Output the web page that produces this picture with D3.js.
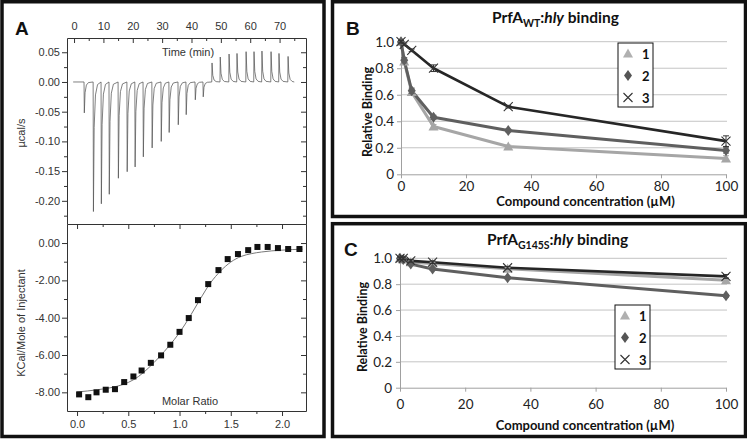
<!DOCTYPE html>
<html><head><meta charset="utf-8">
<script src="https://cdn.jsdelivr.net/npm/d3@7"></script>
<style>body{margin:0;background:#fff} svg{display:block}</style>
</head><body>
<svg id="chart" width="747" height="440"></svg>
<script>
// ---------------- DATA ----------------
// Panel A (top): ITC raw trace, injection times (min) and peak heat rates (µcal/s)
const injTime = [3.4,6.5,9.2,11.9,15.0,18.0,20.7,23.5,26.5,29.6,32.3,35.4,38.1,41.2,43.9,46.9,49.7,52.7,55.4,58.5,61.2,63.9,67.0,69.7,72.8];
const injPeak = [-0.052,-0.218,-0.205,-0.189,-0.162,-0.151,-0.143,-0.126,-0.111,-0.100,-0.085,-0.072,-0.055,-0.030,-0.025,0.032,0.042,0.047,0.048,0.051,0.051,0.052,0.051,0.048,0.043];
const timeTicks = [0,10,20,30,40,50,60,70];
const timeMinor = [5,15,25,35,45,55,65,75];
const rateTicks = [0.05,0,-0.05,-0.10,-0.15,-0.20];
const rateMinor = [0.025,-0.025,-0.075,-0.125,-0.175,-0.225];
// Panel A (bottom): integrated heats
const molarRatio = [0.02,0.11,0.19,0.28,0.37,0.46,0.55,0.63,0.72,0.82,0.91,1.00,1.09,1.18,1.28,1.38,1.47,1.57,1.67,1.76,1.86,1.96,2.06,2.17];
const heatKcal  = [-8.11,-8.26,-8.00,-7.86,-7.83,-7.45,-7.15,-6.83,-6.42,-6.02,-5.45,-4.76,-4.02,-3.06,-2.20,-1.45,-0.86,-0.59,-0.38,-0.21,-0.21,-0.27,-0.32,-0.32];
const fitRatio = [0.0,0.2,0.4,0.5,0.6,0.7,0.8,0.9,1.0,1.1,1.2,1.3,1.4,1.5,1.6,1.7,1.8,1.9,2.0,2.1,2.2];
const fitKcal  = [-7.98,-7.86,-7.66,-7.47,-7.15,-6.68,-6.12,-5.50,-4.80,-3.95,-3.02,-2.15,-1.50,-1.02,-0.72,-0.57,-0.48,-0.42,-0.38,-0.35,-0.33];
const ratioTicks = [0,0.5,1.0,1.5,2.0];
const ratioMinor = [0.25,0.75,1.25,1.75];
const kcalTicks = [0,-2,-4,-6,-8];
const kcalMinor = [-1,-3,-5,-7];
// Panels B and C: relative binding vs compound concentration
const concentration = [0,1,3.3,10,33,100];
const seriesNames = ["1","2","3"];
const wt1 = [1.00,0.85,0.62,0.36,0.21,0.12];
const wt2 = [1.00,0.86,0.63,0.43,0.33,0.18];
const wt3 = [1.00,0.98,0.935,0.80,0.51,0.25];
const wtErr1 = [0.01,0.02,0.02,0.015,0.01,0.02];
const wtErr2 = [0.01,0.02,0.02,0.015,0.01,0.02];
const wtErr3 = [0.01,0.01,0.01,0.025,0.01,0.04];
const g1 = [1.00,0.99,0.97,0.96,0.92,0.83];
const g2 = [1.00,0.99,0.955,0.917,0.85,0.71];
const g3 = [1.00,1.00,0.98,0.97,0.927,0.86];
const gErr1 = [0.01,0.01,0.01,0.01,0.01,0.02];
const gErr2 = [0.01,0.01,0.01,0.01,0.01,0.01];
const gErr3 = [0.01,0.01,0.01,0.01,0.01,0.015];
const concTicks = [0,20,40,60,80,100];
const bindTicks = [0,0.2,0.4,0.6,0.8,1.0];

// ---------------- DRAW ----------------
const svg = d3.select("#chart");
const FA = "'Liberation Sans', Arial, Helvetica, sans-serif";
const FB = "Lato, Carlito, 'Open Sans', sans-serif";

// frames
svg.append("rect").attr("x",2).attr("y",1.75).attr("width",322).attr("height",434.75);
svg.append("rect").attr("x",332.5).attr("y",1.75).attr("width",413).attr("height",214.75);
svg.append("rect").attr("x",332.5).attr("y",223.7).attr("width",413).attr("height",212.8);
svg.selectAll("rect").attr("fill","none").attr("stroke","#111").attr("stroke-width",3.5);

// ===== Panel A =====
const gA = svg.append("g").attr("class","pa");
const xT = d3.scaleLinear([-2.4,79],[67,306]);
const yT = d3.scaleLinear([-0.239,0.074],[224,38]);
const xM = d3.scaleLinear([-0.098,2.234],[67,306]);
const yK = d3.scaleLinear([-9.0,1.02],[411,224]);
const f2 = d => d.toFixed(2);
const f1 = d => d.toFixed(1);
const noDomain = g => g.select(".domain").remove();

// raw trace
const tracePts = [[-0.3,0]];
injTime.forEach((t,i) => {
  const p = injPeak[i];
  tracePts.push([t,0],[t+0.1,p],[t+0.35,p*0.35],[t+0.8,p*0.1],[t+1.5,p*0.02]);
});
tracePts.push([75,0]);
gA.append("path").attr("d", d3.line().x(d=>xT(d[0])).y(d=>yT(d[1]))(tracePts))
  .attr("fill","none").attr("stroke","#555").attr("stroke-width",0.75);

// top plot axes
gA.append("g").attr("transform","translate(67,0)")
  .call(d3.axisLeft(yT).tickValues(rateTicks).tickFormat(f2).tickSize(5).tickSizeOuter(0).tickPadding(2));
gA.append("g").attr("transform","translate(67,0)")
  .call(d3.axisLeft(yT).tickValues(rateMinor).tickFormat("").tickSize(3)).call(noDomain);
gA.append("g").attr("transform","translate(306,0)")
  .call(d3.axisRight(yT).tickValues(rateTicks).tickFormat("").tickSize(-5).tickSizeOuter(0));
gA.append("g").attr("transform","translate(306,0)")
  .call(d3.axisRight(yT).tickValues(rateMinor).tickFormat("").tickSize(-3)).call(noDomain);
gA.append("g").attr("transform","translate(0,38)")
  .call(d3.axisTop(xT).tickValues(timeTicks).tickFormat(d3.format("d")).tickSize(-5).tickSizeOuter(0).tickPadding(8));
gA.append("g").attr("transform","translate(0,38)")
  .call(d3.axisTop(xT).tickValues(timeMinor).tickFormat("").tickSize(-3)).call(noDomain);

// shared middle axis (molar ratio ticks into lower plot)
gA.append("g").attr("transform","translate(0,224)")
  .call(d3.axisBottom(xM).tickValues(ratioTicks).tickFormat("").tickSize(5).tickSizeOuter(0));
gA.append("g").attr("transform","translate(0,224)")
  .call(d3.axisBottom(xM).tickValues(ratioMinor).tickFormat("").tickSize(3)).call(noDomain);

// lower plot axes
gA.append("g").attr("transform","translate(67,0)")
  .call(d3.axisLeft(yK).tickValues(kcalTicks).tickFormat(f2).tickSize(5).tickSizeOuter(0).tickPadding(2));
gA.append("g").attr("transform","translate(67,0)")
  .call(d3.axisLeft(yK).tickValues(kcalMinor).tickFormat("").tickSize(3)).call(noDomain);
gA.append("g").attr("transform","translate(306,0)")
  .call(d3.axisRight(yK).tickValues(kcalTicks).tickFormat("").tickSize(-5).tickSizeOuter(0));
gA.append("g").attr("transform","translate(306,0)")
  .call(d3.axisRight(yK).tickValues(kcalMinor).tickFormat("").tickSize(-3)).call(noDomain);
gA.append("g").attr("transform","translate(0,411)")
  .call(d3.axisBottom(xM).tickValues(ratioTicks).tickFormat(f1).tickSize(5).tickSizeOuter(0).tickPadding(4));
gA.append("g").attr("transform","translate(0,411)")
  .call(d3.axisBottom(xM).tickValues(ratioMinor).tickFormat("").tickSize(3)).call(noDomain);

gA.selectAll(".domain, .tick line").attr("stroke","#333").attr("stroke-width",1);
gA.selectAll(".tick text").attr("font-family",FA).attr("font-size",11).attr("fill","#333");

// fit curve and points
gA.append("path")
  .attr("d", d3.line().curve(d3.curveMonotoneX).x((d,i)=>xM(fitRatio[i])).y((d,i)=>yK(fitKcal[i]))(fitRatio))
  .attr("fill","none").attr("stroke","#777").attr("stroke-width",1);
gA.selectAll("rect.pt").data(molarRatio).join("rect").attr("class","pt")
  .attr("x",(d)=>xM(d)-3).attr("y",(d,i)=>yK(heatKcal[i])-3)
  .attr("width",6).attr("height",6).attr("fill","#111");

// panel A labels
const lblA = (x,y,t,rot) => {
  const tx = gA.append("text").attr("font-family",FA).attr("font-size",11).attr("fill","#333")
    .attr("text-anchor","middle").text(t);
  if (rot) tx.attr("transform",`translate(${x},${y}) rotate(-90)`); else tx.attr("x",x).attr("y",y);
};
lblA(188,56,"Time (min)");
lblA(190,405,"Molar Ratio");
lblA(25,133,"µcal/s",true);
lblA(25,323,"KCal/Mole of Injectant",true);
gA.append("text").attr("x",15).attr("y",35).attr("font-family",FA).attr("font-weight","bold")
  .attr("font-size",19).attr("fill","#111").text("A");

// ===== Panels B & C =====
const colors = ["#a6a6a6","#5f5f5f","#262626"];
const widths = [3,3,2.6];
function marker(g, type, x, y, color) {
  if (type === 0) {
    g.append("path").attr("d",`M${x},${y-5}L${x+5},${y+4}L${x-5},${y+4}Z`).attr("fill",color);
  } else if (type === 1) {
    g.append("path").attr("d",`M${x},${y-5.5}L${x+4},${y}L${x},${y+5.5}L${x-4},${y}Z`).attr("fill",color);
  } else {
    g.append("path").attr("d",`M${x-4.5},${y-4.5}L${x+4.5},${y+4.5}M${x-4.5},${y+4.5}L${x+4.5},${y-4.5}`)
      .attr("stroke","#333").attr("stroke-width",1.1).attr("fill","none");
  }
}
function bindingPanel(o) {
  const g = svg.append("g");
  const x = d3.scaleLinear([0,100],[o.left,o.right]);
  const y = d3.scaleLinear([0,1],[o.bottom,o.top]);
  // gridlines
  g.append("g").selectAll("line").data(bindTicks.filter(d=>d>0)).join("line")
    .attr("x1",o.left).attr("x2",o.right+1).attr("y1",d=>y(d)).attr("y2",d=>y(d))
    .attr("stroke","#c4c4c4").attr("stroke-width",1);
  g.append("g").attr("transform",`translate(${o.left},0)`)
    .call(d3.axisLeft(y).tickValues(bindTicks).tickFormat(d=>d===0?"0":d.toFixed(1)).tickSize(4).tickSizeOuter(0).tickPadding(o.yPad));
  g.append("g").attr("transform",`translate(0,${o.bottom})`)
    .call(d3.axisBottom(x).tickValues(concTicks).tickSize(4).tickSizeOuter(0).tickPadding(o.xPad));
  g.selectAll(".domain, .tick line").attr("stroke","#a0a0a0").attr("stroke-width",1);
  g.selectAll(".tick text").attr("font-family",FB).attr("font-size",13.5).attr("fill","#222");
  // series
  o.series.forEach((vals,si) => {
    g.append("path").attr("d", d3.line().x((d,i)=>x(concentration[i])).y(d=>y(d))(vals))
      .attr("fill","none").attr("stroke",colors[si]).attr("stroke-width",widths[si]).attr("stroke-linejoin","round");
  });
  o.series.forEach((vals,si) => {
    const errs = o.errors[si];
    vals.forEach((v,i) => {
      const cx = x(concentration[i]);
      const e = errs[i];
      g.append("path").attr("d",`M${cx},${y(v-e)}V${y(v+e)}M${cx-3},${y(v-e)}H${cx+3}M${cx-3},${y(v+e)}H${cx+3}`)
        .attr("stroke",si===2?"#333":colors[si]).attr("stroke-width",1).attr("fill","none");
      marker(g, si, cx, y(v), colors[si]);
    });
  });
  // legend
  const lg = g.append("g");
  lg.append("rect").attr("x",o.leg[0]).attr("y",o.leg[1]).attr("width",35).attr("height",64)
    .attr("fill","#fff").attr("stroke","#111").attr("stroke-width",1);
  seriesNames.forEach((nm,i) => {
    const ly = o.leg[1] + 10.5 + i*22;
    marker(lg, i, o.leg[0]+10, ly, i===0?"#b0b0b0":"#555");
    lg.append("text").attr("x",o.leg[0]+24).attr("y",ly+5).attr("font-family",FB).attr("font-weight","bold")
      .attr("font-size",13).attr("fill","#111").text(nm);
  });
  // titles and labels
  const t = g.append("text").attr("x",o.titleX).attr("y",o.titleY).attr("font-family",FB)
    .attr("font-weight","bold").attr("font-size",15.5).attr("fill","#111");
  t.append("tspan").text("PrfA");
  t.append("tspan").attr("font-size",10.5).attr("dy",4).text(o.sub);
  t.append("tspan").attr("dy",-4).text(":");
  t.append("tspan").attr("font-style","italic").text("hly");
  t.append("tspan").text(" binding");
  g.append("text").attr("x",(o.left+o.right)/2+22).attr("y",o.xLabY).attr("text-anchor","middle")
    .attr("font-family",FB).attr("font-weight","bold").attr("font-size",13).attr("fill","#111")
    .text("Compound concentration (µM)");
  g.append("text").attr("transform",`translate(${o.yLabX},${(o.top+o.bottom)/2+4}) rotate(-90)`)
    .attr("text-anchor","middle").attr("font-family",FB).attr("font-weight","bold").attr("font-size",12.5)
    .attr("fill","#111").text("Relative Binding");
  g.append("text").attr("x",o.letter[0]).attr("y",o.letter[1]).attr("font-family",FA).attr("font-weight","bold")
    .attr("font-size",19).attr("fill","#111").text(o.letterText);
}

bindingPanel({left:401,right:726,top:41.7,bottom:174.3,yPad:3,xPad:3.5,
  series:[wt1,wt2,wt3], errors:[wtErr1,wtErr2,wtErr3], leg:[618,43],
  sub:"WT", titleX:492, titleY:23, xLabY:206, yLabX:372, letter:[346,34.5], letterText:"B"});
bindingPanel({left:400,right:726,top:258.3,bottom:387.7,yPad:4,xPad:8,
  series:[g1,g2,g3], errors:[gErr1,gErr2,gErr3], leg:[615,305],
  sub:"G145S", titleX:487, titleY:244.5, xLabY:429.5, yLabX:367, letter:[344,255.5], letterText:"C"});
</script>
</body></html>
